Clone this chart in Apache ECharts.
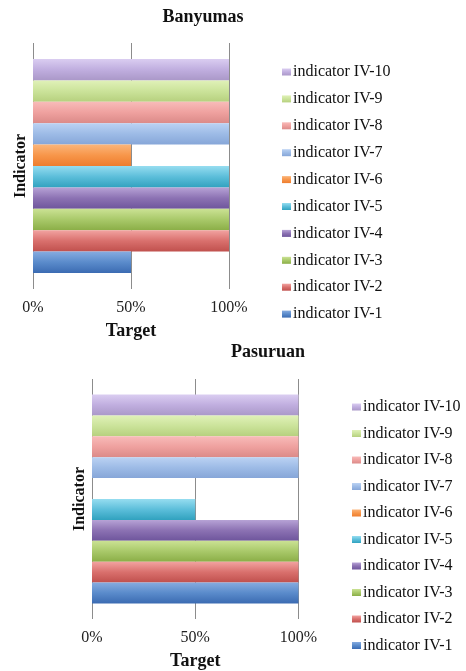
<!DOCTYPE html>
<html>
<head>
<meta charset="utf-8">
<script src="https://cdn.jsdelivr.net/npm/echarts@6/dist/echarts.min.js"></script>
<style>
html,body{margin:0;padding:0;background:#fff;}
#c{width:466px;height:671px;}
</style>
</head>
<body>
<div id="c"></div>
<script>
const indicators = ['indicator IV-1','indicator IV-2','indicator IV-3','indicator IV-4','indicator IV-5',
  'indicator IV-6','indicator IV-7','indicator IV-8','indicator IV-9','indicator IV-10'];
const banyumasValues = [50,100,100,100,100,50,100,100,100,100];
const pasuruanValues = [100,100,100,100,50,0,100,100,100,100];
const xTickValues = [0,50,100];
const panelTitles = ['Banyumas','Pasuruan'];
const xAxisTitle = 'Target';
const yAxisTitle = 'Indicator';

const gradTop = ['#86ABDF','#F2A3A1','#CBE294','#B7A3D6','#96DDF0','#FBB57A','#BBD2F3','#F8BBB9','#E0F1B8','#DACDF1'];
const gradMid = ['#5A8BCB','#D9706D','#A9C96A','#8C72B3','#5CBEDA','#F7964A','#9DBBE6','#EFA19F','#CBE39A','#C0AEDF'];
const gradBot = ['#3B6BB2','#C0504D','#8BAE47','#6E559C','#31A2BF','#EE7D2E','#86A6D8','#DB8A88','#B6D07E','#AA98C8'];

const FONT = '"Liberation Serif","Times New Roman",serif';

function grad(i){
  return new echarts.graphic.LinearGradient(0,0,0,1,[
    {offset:0,color:gradTop[i]},
    {offset:0.5,color:gradMid[i]},
    {offset:1,color:gradBot[i]}
  ]);
}

const grids = [
  {left:33, top:43, width:196, height:246},
  {left:92, top:379, width:206.5, height:240}
];

function xAxisFor(gi){
  return {
    gridIndex: gi, type:'value', min:0, max:100, interval:50,
    axisLine:{show:false}, axisTick:{show:false},
    splitLine:{show:true, lineStyle:{color:'#8c8c8c', width:1}},
    axisLabel:{formatter: v => xTickValues.includes(v) ? v + '%' : '', color:'#222', fontFamily:FONT, fontSize:16, margin:11},
    name: xAxisTitle, nameLocation:'middle', nameGap:33,
    nameTextStyle:{fontFamily:FONT, fontSize:18, fontWeight:'bold', color:'#111'}
  };
}
function yAxisFor(gi){
  return {
    gridIndex: gi, type:'category', data:[yAxisTitle],
    axisLine:{show:false}, axisTick:{show:false}, axisLabel:{show:false},
    splitLine:{show:false},
    name: yAxisTitle, nameLocation:'middle', nameGap:4, nameRotate:90,
    nameTextStyle:{fontFamily:FONT, fontSize:16, fontWeight:'bold', color:'#111'}
  };
}

// ECharts stacks horizontal bars top-down in series order, so add IV-10 first.
const series = [];
[banyumasValues, pasuruanValues].forEach((vals, gi) => {
  for (let i = indicators.length - 1; i >= 0; i--) {
    series.push({
      type:'bar', name: indicators[i], xAxisIndex: gi, yAxisIndex: gi,
      data:[vals[i]],
      barGap:'0%', barCategoryGap:'13%',
      itemStyle:{color: grad(i)},
      emphasis:{disabled:true},
      animation:false
    });
  }
});

const legendOrder = indicators.slice().reverse();
function legendFor(left, top, gap){
  return {
    orient:'vertical', left:left, top:top, data:legendOrder,
    icon:'rect', itemWidth:9, itemHeight:7, itemGap:gap, padding:0,
    selectedMode:false,
    textStyle:{fontFamily:FONT, fontSize:16, color:'#111', lineHeight:16, padding:[0,0,0,-3]}
  };
}

const chart = echarts.init(document.getElementById('c'), null, {renderer:'canvas'});
chart.setOption({
  backgroundColor:'#fff',
  animation:false,
  title:[
    {text:panelTitles[0], left:198, top:3, textAlign:'center',
     textStyle:{fontFamily:FONT, fontSize:18, fontWeight:'bold', color:'#111'}},
    {text:panelTitles[1], left:263, top:338, textAlign:'center',
     textStyle:{fontFamily:FONT, fontSize:18, fontWeight:'bold', color:'#111'}}
  ],
  legend:[legendFor(282, 64, 10.9), legendFor(352, 399, 10.5)],
  grid: grids,
  xAxis:[xAxisFor(0), xAxisFor(1)],
  yAxis:[yAxisFor(0), yAxisFor(1)],
  series: series
});
</script>
</body>
</html>
